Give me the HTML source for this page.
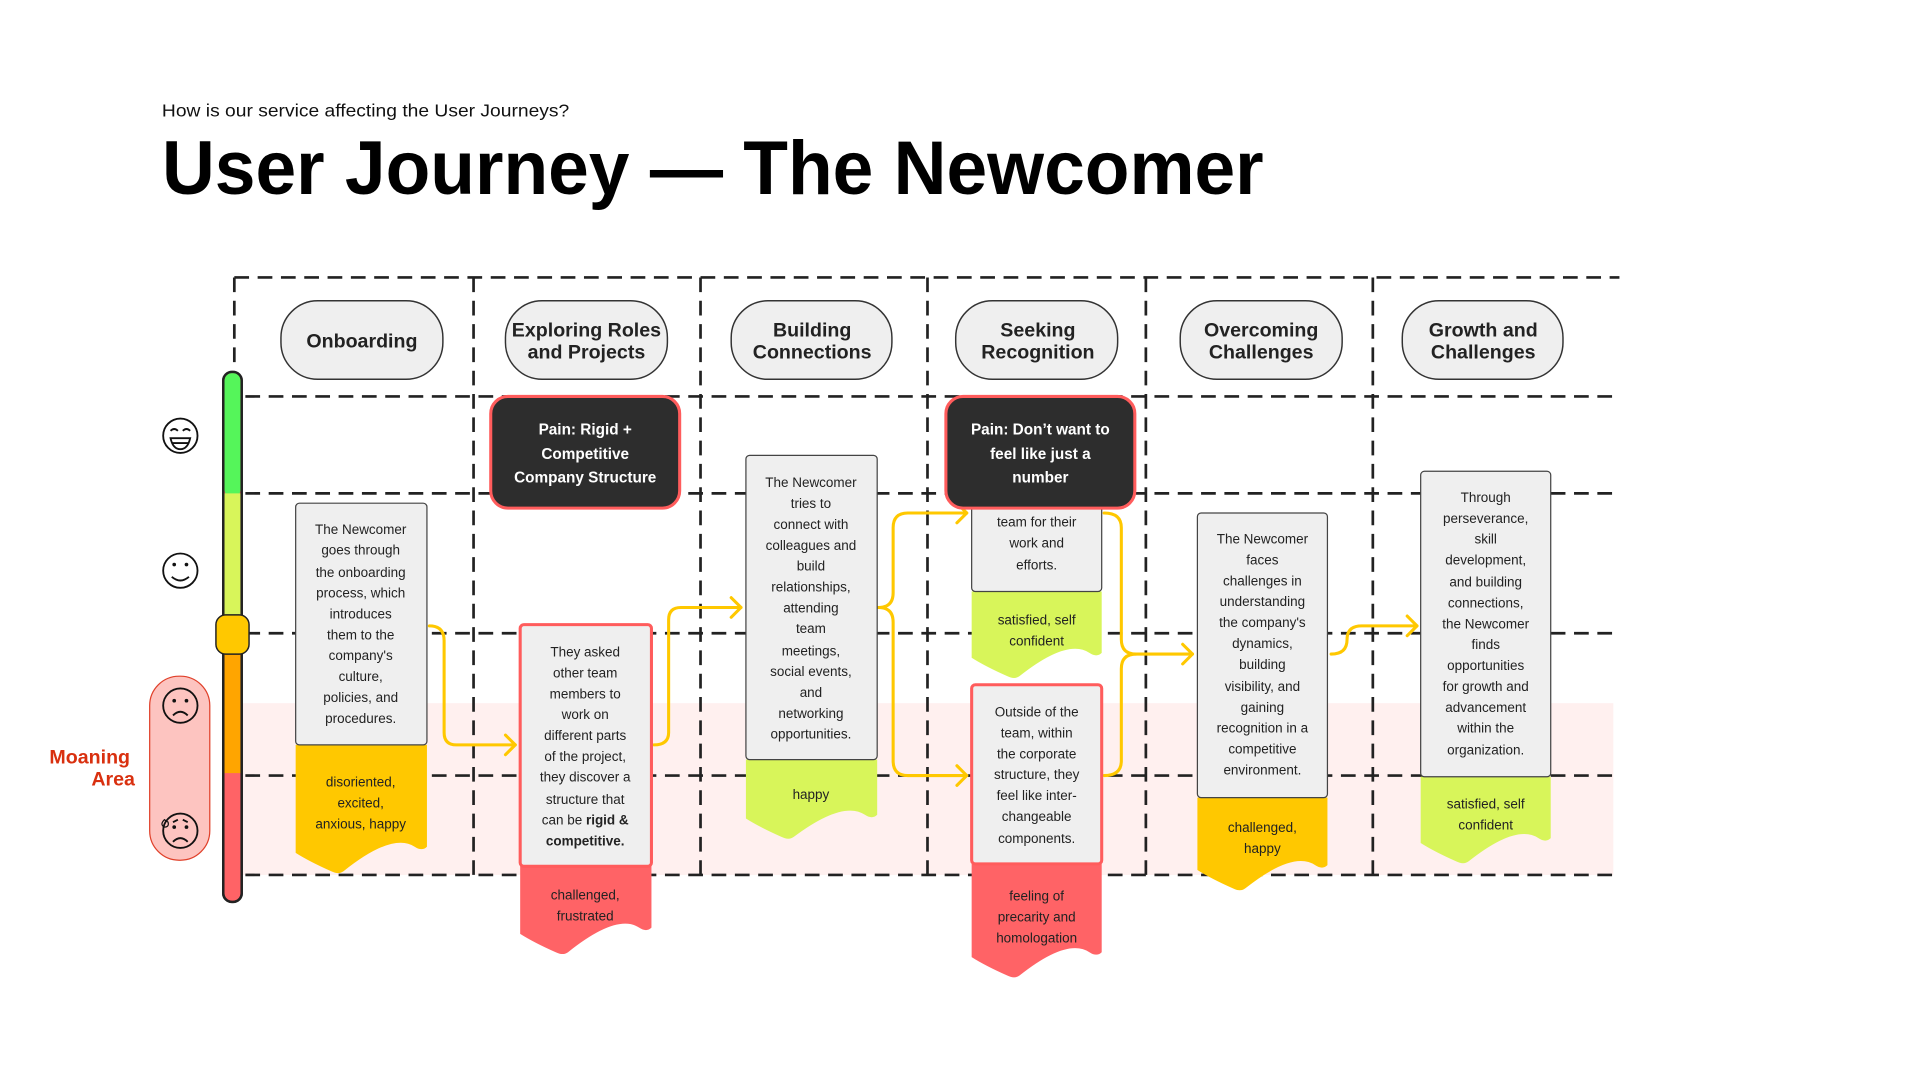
<!DOCTYPE html>
<html><head><meta charset="utf-8"><style>
html,body{margin:0;padding:0;background:#fff;}
svg{display:block;}
text{font-family:"Liberation Sans",sans-serif;}
</style></head><body>
<svg width="1920" height="1080" viewBox="0 0 1565 880" xmlns="http://www.w3.org/2000/svg">
<rect width="1565" height="880" fill="#fff"/>
<text x="132" y="95" font-size="14.5" fill="#111" textLength="332" lengthAdjust="spacingAndGlyphs">How is our service affecting the User Journeys?</text>
<text x="132" y="158" font-size="62" font-weight="bold" fill="#000" textLength="898" lengthAdjust="spacingAndGlyphs">User Journey — The Newcomer</text>

<!-- pink band -->
<rect x="197" y="573" width="1118" height="140" fill="#fff0ef"/>

<!-- dashed grid -->
<g stroke="#222" stroke-width="2.2" stroke-dasharray="12 7" fill="none">
<line x1="191" y1="226" x2="1320" y2="226"/>
<line x1="200" y1="323" x2="1315" y2="323"/>
<line x1="200" y1="402" x2="1315" y2="402"/>
<line x1="200" y1="516" x2="1315" y2="516"/>
<line x1="200" y1="632" x2="1315" y2="632"/>
<line x1="200" y1="713" x2="1315" y2="713"/>
<line x1="191" y1="226" x2="191" y2="300"/>
<line x1="386" y1="226" x2="386" y2="713"/>
<line x1="571" y1="226" x2="571" y2="713"/>
<line x1="756" y1="226" x2="756" y2="713"/>
<line x1="934" y1="226" x2="934" y2="713"/>
<line x1="1119" y1="226" x2="1119" y2="713"/>
</g>

<!-- header pills -->
<g fill="#efefef" stroke="#333" stroke-width="1.2">
<rect x="229" y="245" width="132" height="64" rx="30"/>
<rect x="412" y="245" width="132" height="64" rx="30"/>
<rect x="596" y="245" width="131" height="64" rx="30"/>
<rect x="779" y="245" width="132" height="64" rx="30"/>
<rect x="962" y="245" width="132" height="64" rx="30"/>
<rect x="1143" y="245" width="131" height="64" rx="30"/>
</g>
<g font-size="16" font-weight="bold" fill="#222" text-anchor="middle">
<text x="295" y="283">Onboarding</text>
<text x="478" y="274">Exploring Roles</text><text x="478" y="292">and Projects</text>
<text x="662" y="274">Building</text><text x="662" y="292">Connections</text>
<text x="846" y="274">Seeking</text><text x="846" y="292">Recognition</text>
<text x="1028" y="274">Overcoming</text><text x="1028" y="292">Challenges</text>
<text x="1209" y="274">Growth and</text><text x="1209" y="292">Challenges</text>
</g>

<!-- bar -->
<rect x="182" y="303" width="15" height="432" rx="7" fill="#ff6366" stroke="#222" stroke-width="2"/>
<rect x="183" y="304" width="13" height="101" rx="6" fill="#55f55a"/>
<rect x="183" y="402" width="13" height="113" fill="#d8f55a"/>
<rect x="183" y="515" width="13" height="115" fill="#ffa500"/>
<rect x="182" y="303" width="15" height="432" rx="7" fill="none" stroke="#222" stroke-width="2"/>
<rect x="176" y="501" width="27" height="32" rx="8" fill="#ffc800" stroke="#222" stroke-width="1.2"/>

<!-- moaning -->
<rect x="122" y="551" width="49" height="150" rx="24" fill="#fdc4c0" stroke="#e0402a" stroke-width="1"/>
<text x="106" y="622" font-size="16" font-weight="bold" fill="#d9300f" text-anchor="end">Moaning</text>
<text x="110" y="640" font-size="16" font-weight="bold" fill="#d9300f" text-anchor="end">Area</text>

<!-- faces -->
<g fill="none" stroke="#111" stroke-width="1.5">
<circle cx="147" cy="355" r="14"/>
<path d="M139,357 H155 Q153,366 147,366 Q141,366 139,357 Z" fill="#fff"/>
<line x1="140" y1="361" x2="154" y2="361"/>
<path d="M139,351 q3,-3 6,0 M149,351 q3,-3 6,0"/>
<circle cx="147" cy="465" r="14"/>
<path d="M140,470 q7,6 14,0"/>
<circle cx="147" cy="575" r="14"/>
<path d="M141,583 q6,-6 12,0"/>
<circle cx="147" cy="677" r="14"/>
<path d="M141,686 q6,-6 12,0 M141,670 l4,-2 M153,670 l-4,-2"/>
<path d="M134,668 q-4,4 0,6 q4,0 3,-4 z" stroke-width="1"/>
</g>
<g fill="#111">
<circle cx="142" cy="460" r="1.5"/><circle cx="152" cy="460" r="1.5"/>
<circle cx="142" cy="571" r="1.5"/><circle cx="152" cy="571" r="1.5"/>
<circle cx="142" cy="674" r="1.5"/><circle cx="152" cy="674" r="1.5"/>
</g>

<!-- arrows -->
<g fill="none" stroke="#ffc800" stroke-width="2.5" stroke-linecap="round" stroke-linejoin="round">
<path d="M350,510 Q362,510 362,522 V597 Q362,607 372,607 H420"/>
<path d="M412,599 L420,607 L412,615"/>
<path d="M533,607 Q545,607 545,597 V505 Q545,495 555,495 H604"/>
<path d="M596,487 L604,495 L596,503"/>
<path d="M716,495 Q728,495 728,483 V430 Q728,418 740,418 H788"/>
<path d="M716,495 Q728,495 728,507 V620 Q728,632 740,632 H788"/>
<path d="M780,410 L788,418 L780,426"/>
<path d="M780,624 L788,632 L780,640"/>
<path d="M900,418 Q914,418 914,430 V521 Q914,533 926,533 H972"/>
<path d="M900,632 Q914,632 914,620 V545 Q914,533 926,533"/>
<path d="M964,525 L972,533 L964,541"/>
<path d="M1085,533 Q1098,533 1098,521 Q1098,510 1110,510 H1155"/>
<path d="M1147,502 L1155,510 L1147,518"/>
</g>

<!-- emotion shapes -->
<g stroke="none">
<path d="M241,607 H348 V690 Q344,694 338,690 Q320,678 280,710 Q276,713 270,710 Q252,702 241,695 Z" fill="#ffc800"/>
<path d="M424,706 H531 V756 Q527,760 521,756 Q503,744 463,776 Q459,779 453,776 Q435,768 424,761 Z" fill="#ff6366"/>
<path d="M608,619 H715 V664 Q711,668 705,664 Q687,652 647,682 Q643,685 637,682 Q619,674 608,667 Z" fill="#d8f55a"/>
<path d="M792,482 H898 V532 Q894,536 888,532 Q870,520 831,551 Q827,554 821,551 Q803,543 792,536 Z" fill="#d8f55a"/>
<path d="M792,704 H898 V776 Q894,780 888,776 Q870,764 831,795 Q827,798 821,795 Q803,787 792,780 Z" fill="#ff6366"/>
<path d="M976,650 H1082 V705 Q1078,709 1072,705 Q1054,693 1015,724 Q1011,727 1005,724 Q987,716 976,709 Z" fill="#ffc800"/>
<path d="M1158,633 H1264 V683 Q1260,687 1254,683 Q1236,671 1197,702 Q1193,705 1187,702 Q1169,694 1158,687 Z" fill="#d8f55a"/>
</g>

<!-- text boxes -->
<g fill="#efefef" stroke="#444" stroke-width="1">
<rect x="241" y="410" width="107" height="197" rx="3"/>
<rect x="608" y="371" width="107" height="248" rx="3"/>
<rect x="792" y="405" width="106" height="77" rx="3"/>
<rect x="976" y="418" width="106" height="232" rx="3"/>
<rect x="1158" y="384" width="106" height="249" rx="3"/>
</g>
<g fill="#efefef" stroke="#ff5c5c" stroke-width="2.5">
<rect x="424" y="509" width="107" height="197" rx="3"/>
<rect x="792" y="558" width="106" height="146" rx="3"/>
</g>
<g fill="#2d2d2d" stroke="#ff5c5c" stroke-width="2.5">
<rect x="400" y="323" width="154" height="91" rx="14"/>
<rect x="771" y="323" width="154" height="91" rx="14"/>
</g>
<g font-size="12.5" font-weight="bold" fill="#fff" text-anchor="middle">
<text x="477" y="354">Pain: Rigid +</text><text x="477" y="374">Competitive</text><text x="477" y="393">Company Structure</text>
<text x="848" y="354">Pain: Don’t want to</text><text x="848" y="374">feel like just a</text><text x="848" y="393">number</text>
</g>

<g font-size="11" fill="#222" text-anchor="middle">
<text x="294" y="435">The Newcomer</text><text x="294" y="452">goes through</text><text x="294" y="470">the onboarding</text><text x="294" y="487">process, which</text><text x="294" y="504">introduces</text><text x="294" y="521">them to the</text><text x="294" y="538">company's</text><text x="294" y="555">culture,</text><text x="294" y="572">policies, and</text><text x="294" y="589">procedures.</text>
<text x="294" y="641">disoriented,</text><text x="294" y="658">excited,</text><text x="294" y="675">anxious, happy</text>

<text x="477" y="535">They asked</text><text x="477" y="552">other team</text><text x="477" y="569">members to</text><text x="477" y="586">work on</text><text x="477" y="603">different parts</text><text x="477" y="620">of the project,</text><text x="477" y="637">they discover a</text><text x="477" y="655">structure that</text><text x="477" y="672">can be <tspan font-weight="bold">rigid &amp;</tspan></text><text x="477" y="689" font-weight="bold">competitive.</text>
<text x="477" y="733">challenged,</text><text x="477" y="750">frustrated</text>

<text x="661" y="397">The Newcomer</text><text x="661" y="414">tries to</text><text x="661" y="431">connect with</text><text x="661" y="448">colleagues and</text><text x="661" y="465">build</text><text x="661" y="482">relationships,</text><text x="661" y="499">attending</text><text x="661" y="516">team</text><text x="661" y="534">meetings,</text><text x="661" y="551">social events,</text><text x="661" y="568">and</text><text x="661" y="585">networking</text><text x="661" y="602">opportunities.</text>
<text x="661" y="651">happy</text>

<text x="845" y="429">team for their</text><text x="845" y="446">work and</text><text x="845" y="464">efforts.</text>
<text x="845" y="509">satisfied, self</text><text x="845" y="526">confident</text>
<text x="845" y="584">Outside of the</text><text x="845" y="601">team, within</text><text x="845" y="618">the corporate</text><text x="845" y="635">structure, they</text><text x="845" y="652">feel like inter-</text><text x="845" y="669">changeable</text><text x="845" y="687">components.</text>
<text x="845" y="734">feeling of</text><text x="845" y="751">precarity and</text><text x="845" y="768">homologation</text>

<text x="1029" y="443">The Newcomer</text><text x="1029" y="460">faces</text><text x="1029" y="477">challenges in</text><text x="1029" y="494">understanding</text><text x="1029" y="511">the company's</text><text x="1029" y="528">dynamics,</text><text x="1029" y="545">building</text><text x="1029" y="563">visibility, and</text><text x="1029" y="580">gaining</text><text x="1029" y="597">recognition in a</text><text x="1029" y="614">competitive</text><text x="1029" y="631">environment.</text>
<text x="1029" y="678">challenged,</text><text x="1029" y="695">happy</text>

<text x="1211" y="409">Through</text><text x="1211" y="426">perseverance,</text><text x="1211" y="443">skill</text><text x="1211" y="460">development,</text><text x="1211" y="478">and building</text><text x="1211" y="495">connections,</text><text x="1211" y="512">the Newcomer</text><text x="1211" y="529">finds</text><text x="1211" y="546">opportunities</text><text x="1211" y="563">for growth and</text><text x="1211" y="580">advancement</text><text x="1211" y="597">within the</text><text x="1211" y="615">organization.</text>
<text x="1211" y="659">satisfied, self</text><text x="1211" y="676">confident</text>
</g>
</svg>
</body></html>
